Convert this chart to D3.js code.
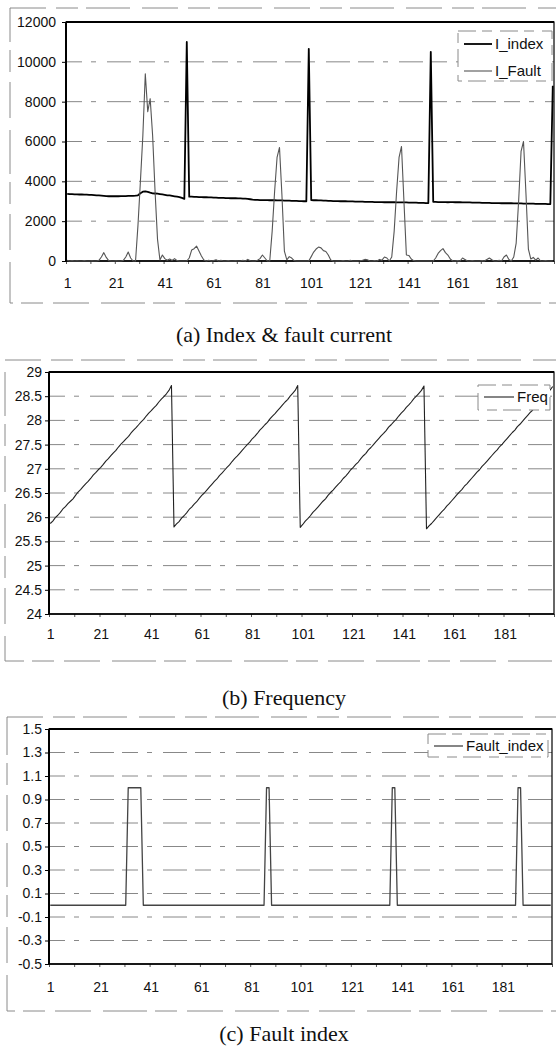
<!DOCTYPE html>
<html>
<head>
<meta charset="utf-8">
<script src="https://cdn.jsdelivr.net/npm/d3@7"></script>
<style>
  body { margin: 0; background: #fff; }
  .tick text { font-family: "Liberation Sans", Arial, sans-serif; font-size: 14px; fill: #111; }
  .caption { font-family: "Liberation Serif", "Times New Roman", serif; font-size: 22px; fill: #111; }
  .legtext { font-family: "Liberation Sans", Arial, sans-serif; font-size: 15px; fill: #111; }
</style>
</head>
<body>
<script>
// svg container
var svgWidth = 556;
var svgHeight = 1053;

// x categories and tick labels (shared by the 3 panels)
var categories = d3.range(1, 201);
var xTickLabels = [1, 21, 41, 61, 81, 101, 121, 141, 161, 181];

// (a) index & fault current
var yTicksA = [0, 2000, 4000, 6000, 8000, 10000, 12000];
var iIndex = [
  3370, 3360, 3360, 3350, 3350, 3340, 3340, 3330, 3330, 3320,
  3320, 3310, 3300, 3290, 3280, 3270, 3260, 3250, 3250, 3250,
  3250, 3250, 3260, 3260, 3260, 3270, 3270, 3270, 3280, 3300,
  3400, 3480, 3500, 3470, 3430, 3400, 3390, 3380, 3360, 3340,
  3320, 3300, 3290, 3270, 3250, 3230, 3210, 3170, 3120, 11000,
  3230, 3230, 3220, 3220, 3210, 3210, 3200, 3200, 3190, 3190,
  3180, 3180, 3170, 3170, 3170, 3160, 3160, 3150, 3150, 3150,
  3140, 3140, 3130, 3130, 3120, 3100, 3080, 3070, 3070, 3060,
  3060, 3060, 3060, 3050, 3050, 3050, 3040, 3040, 3040, 3030,
  3030, 3030, 3020, 3020, 3020, 3010, 3010, 3000, 3000, 10650,
  3060, 3050, 3050, 3040, 3040, 3030, 3030, 3020, 3020, 3010,
  3010, 3010, 3000, 3000, 3000, 2990, 2990, 2990, 2980, 2980,
  2980, 2980, 2970, 2970, 2970, 2970, 2960, 2960, 2960, 2960,
  2950, 2950, 2950, 2950, 2950, 2940, 2940, 2940, 2940, 2940,
  2930, 2930, 2930, 2930, 2920, 2920, 2920, 2910, 2910, 10500,
  2970, 2970, 2960, 2960, 2960, 2960, 2950, 2960, 2960, 2950,
  2950, 2950, 2940, 2940, 2940, 2940, 2930, 2930, 2930, 2930,
  2920, 2920, 2920, 2920, 2910, 2910, 2910, 2910, 2900, 2900,
  2900, 2900, 2900, 2890, 2890, 2890, 2890, 2880, 2880, 2880,
  2880, 2880, 2870, 2870, 2870, 2870, 2870, 2860, 2860, 8800
];
var iFault = [
  30, 0, 20, 0, 10, 0, 0, 20, 0, 0,
  10, 0, 0, 30, 200, 420, 180, 20, 0, 0,
  10, 0, 0, 30, 200, 450, 150, 0, 0, 1800,
  4000, 6300, 9400, 7500, 8150, 6300, 3500, 1100, 50, 300,
  120, 40, 100, 30, 120, 20, 0, 0, 0, 0,
  150, 550, 620, 750, 500, 250, 50, 0, 40, 0,
  20, 60, 0, 30, 0, 0, 20, 0, 0, 10,
  0, 0, 30, 0, 80, 10, 0, 0, 40, 120,
  300, 150, 0, 0, 1500, 3500, 5200, 5700, 3300, 500,
  60, 220, 150, 20, 0, 0, 0, 0, 0, 0,
  220, 450, 600, 700, 660, 520, 480, 300, 50, 0,
  0, 0, 0, 20, 0, 0, 30, 0, 0, 0,
  10, 40, 80, 60, 0, 0, 20, 0, 80, 40,
  200, 150, 0, 200, 1500, 3500, 5200, 5750, 3000, 300,
  280, 100, 20, 0, 0, 0, 0, 0, 0, 0,
  0, 150, 380, 520, 620, 420, 300, 100, 0, 0,
  20, 0, 150, 80, 0, 0, 20, 0, 0, 0,
  20, 0, 80, 150, 60, 0, 0, 30, 0, 200,
  300, 80, 0, 200, 900, 3000, 5500, 6000, 3400, 600,
  100, 180, 40, 150, 0, 0, 20, 0, 0, 0
];

// (b) frequency
var yTicksB = [24, 24.5, 25, 25.5, 26, 26.5, 27, 27.5, 28, 28.5, 29];
var freq = [
  25.87, 25.92, 25.99, 26.04, 26.10, 26.17, 26.22, 26.28, 26.33, 26.38,
  26.45, 26.52, 26.57, 26.63, 26.69, 26.74, 26.80, 26.87, 26.92, 26.98,
  27.03, 27.09, 27.16, 27.21, 27.27, 27.33, 27.38, 27.45, 27.51, 27.56,
  27.62, 27.67, 27.74, 27.80, 27.85, 27.91, 27.97, 28.02, 28.09, 28.15,
  28.20, 28.26, 28.31, 28.38, 28.44, 28.49, 28.55, 28.62, 28.72, 25.80,
  25.86, 25.91, 25.98, 26.03, 26.09, 26.16, 26.21, 26.27, 26.32, 26.39,
  26.45, 26.50, 26.56, 26.62, 26.68, 26.74, 26.79, 26.86, 26.91, 26.97,
  27.03, 27.08, 27.15, 27.21, 27.26, 27.32, 27.38, 27.44, 27.50, 27.55,
  27.62, 27.67, 27.73, 27.80, 27.85, 27.91, 27.96, 28.03, 28.09, 28.14,
  28.20, 28.26, 28.32, 28.38, 28.43, 28.50, 28.56, 28.62, 28.72, 25.79,
  25.85, 25.92, 25.97, 26.03, 26.10, 26.15, 26.21, 26.27, 26.33, 26.38,
  26.45, 26.51, 26.56, 26.62, 26.68, 26.73, 26.80, 26.85, 26.91, 26.98,
  27.03, 27.09, 27.14, 27.21, 27.27, 27.32, 27.39, 27.44, 27.50, 27.56,
  27.62, 27.68, 27.73, 27.79, 27.86, 27.91, 27.97, 28.02, 28.09, 28.15,
  28.20, 28.27, 28.32, 28.38, 28.45, 28.50, 28.56, 28.62, 28.71, 25.76,
  25.82, 25.87, 25.93, 25.99, 26.05, 26.11, 26.16, 26.23, 26.28, 26.34,
  26.40, 26.46, 26.52, 26.57, 26.64, 26.69, 26.75, 26.81, 26.87, 26.93,
  26.98, 27.05, 27.10, 27.16, 27.22, 27.28, 27.34, 27.39, 27.46, 27.51,
  27.57, 27.63, 27.69, 27.75, 27.80, 27.87, 27.92, 27.98, 28.04, 28.10,
  28.16, 28.21, 28.28, 28.33, 28.39, 28.45, 28.51, 28.57, 28.63, 28.70
];

// (c) fault index
var yTicksC = [-0.5, -0.3, -0.1, 0.1, 0.3, 0.5, 0.7, 0.9, 1.1, 1.3, 1.5];
var faultIndex = [
  0, 0, 0, 0, 0, 0, 0, 0, 0, 0,
  0, 0, 0, 0, 0, 0, 0, 0, 0, 0,
  0, 0, 0, 0, 0, 0, 0, 0, 0, 0,
  0, 1, 1, 1, 1, 1, 1, 0, 0, 0,
  0, 0, 0, 0, 0, 0, 0, 0, 0, 0,
  0, 0, 0, 0, 0, 0, 0, 0, 0, 0,
  0, 0, 0, 0, 0, 0, 0, 0, 0, 0,
  0, 0, 0, 0, 0, 0, 0, 0, 0, 0,
  0, 0, 0, 0, 0, 0, 1, 1, 0, 0,
  0, 0, 0, 0, 0, 0, 0, 0, 0, 0,
  0, 0, 0, 0, 0, 0, 0, 0, 0, 0,
  0, 0, 0, 0, 0, 0, 0, 0, 0, 0,
  0, 0, 0, 0, 0, 0, 0, 0, 0, 0,
  0, 0, 0, 0, 0, 0, 1, 1, 0, 0,
  0, 0, 0, 0, 0, 0, 0, 0, 0, 0,
  0, 0, 0, 0, 0, 0, 0, 0, 0, 0,
  0, 0, 0, 0, 0, 0, 0, 0, 0, 0,
  0, 0, 0, 0, 0, 0, 0, 0, 0, 0,
  0, 0, 0, 0, 0, 0, 1, 1, 0, 0,
  0, 0, 0, 0, 0, 0, 0, 0, 0, 0
];


var svg = d3.select("body")
  .append("svg")
  .attr("width", svgWidth)
  .attr("height", svgHeight);


/////////////// ONE PANEL (excel style line chart) /////////////////////////

function drawPanel(p) {
  var g = svg.append("g");

  var xScale = d3.scaleLinear()
    .domain([0.5, categories.length + 0.5])
    .range([p.left, p.right]);

  var yScale = d3.scaleLinear()
    .domain([p.yTicks[0], p.yTicks[p.yTicks.length - 1]])
    .range([p.bottom, p.top]);

  // dashed chart-area frame (scanned look)
  g.append("rect")
    .attr("x", p.frame[0]).attr("y", p.frame[1])
    .attr("width", p.frame[2] - p.frame[0])
    .attr("height", p.frame[3] - p.frame[1])
    .attr("fill", "none")
    .attr("stroke", "#8a8a8a")
    .attr("stroke-width", 1)
    .attr("stroke-dasharray", "36,10,22,8,44,12");

  // horizontal gridlines
  g.selectAll(".grid")
    .data(p.yTicks.slice(1, -1))
    .enter().append("line")
    .attr("x1", p.left).attr("x2", p.right)
    .attr("y1", d => yScale(d)).attr("y2", d => yScale(d))
    .attr("stroke", "#7a7a7a")
    .attr("stroke-width", 0.9)
    .attr("stroke-dasharray", "16,9,5,11,24,8");

  // y axis
  var yAxis = d3.axisLeft(yScale)
    .tickValues(p.yTicks)
    .tickSize(4)
    .tickSizeOuter(0)
    .tickPadding(p.yPad)
    .tickFormat(p.fmt);
  g.append("g")
    .attr("transform", `translate(${p.left}, 0)`)
    .call(yAxis)
    .call(a => a.select(".domain").remove());

  // x axis labels
  var xAxis = d3.axisBottom(xScale)
    .tickValues(xTickLabels)
    .tickSize(0)
    .tickPadding(p.xPad)
    .tickFormat(d3.format("d"));
  g.append("g")
    .attr("transform", `translate(0, ${p.bottom})`)
    .call(xAxis)
    .call(a => a.select(".domain").remove());

  // small category ticks every 10
  var xTickMarks = d3.axisBottom(xScale)
    .tickValues(d3.range(0.5, 201, 10))
    .tickSize(3)
    .tickSizeOuter(0)
    .tickFormat("");
  g.append("g")
    .attr("transform", `translate(0, ${p.bottom})`)
    .call(xTickMarks)
    .call(a => a.select(".domain").remove())
    .selectAll("line").attr("stroke", "#555");

  // plot area border
  g.append("rect")
    .attr("x", p.left).attr("y", p.top)
    .attr("width", p.right - p.left)
    .attr("height", p.bottom - p.top)
    .attr("fill", "none")
    .attr("stroke", "#000")
    .attr("stroke-width", 1.2);
  g.append("line")
    .attr("x1", p.left).attr("x2", p.left)
    .attr("y1", p.top).attr("y2", p.bottom)
    .attr("stroke", "#000").attr("stroke-width", 2);
  g.append("line")
    .attr("x1", p.left).attr("x2", p.right)
    .attr("y1", p.bottom).attr("y2", p.bottom)
    .attr("stroke", "#000").attr("stroke-width", 1.6);
  g.append("line")
    .attr("x1", p.left).attr("x2", p.right)
    .attr("y1", p.top).attr("y2", p.top)
    .attr("stroke", "#000").attr("stroke-width", 1.8);

  // series lines
  p.series.forEach(function(s) {
    var line = d3.line()
      .x((d, i) => xScale(categories[i]))
      .y(d => yScale(d));
    g.append("path")
      .datum(s.values)
      .attr("d", line)
      .attr("fill", "none")
      .attr("stroke", s.color)
      .attr("stroke-width", s.width)
      .attr("stroke-linejoin", "round");
  });

  // legend
  var L = p.legend;
  g.append("rect")
    .attr("x", L.x).attr("y", L.y)
    .attr("width", L.w).attr("height", L.h)
    .attr("fill", "#fff")
    .attr("stroke", "#8a8a8a")
    .attr("stroke-dasharray", "18,6,10,8");
  p.series.forEach(function(s, i) {
    var ly = L.y + L.first + i * L.step;
    g.append("line")
      .attr("x1", L.x + 6).attr("x2", L.x + 6 + L.len)
      .attr("y1", ly).attr("y2", ly)
      .attr("stroke", s.color)
      .attr("stroke-width", s.width);
    g.append("text")
      .attr("class", "legtext")
      .attr("x", L.x + 9 + L.len)
      .attr("y", ly)
      .attr("dy", "0.35em")
      .text(s.name);
  });

  // caption under the chart
  svg.append("text")
    .attr("class", "caption")
    .attr("x", 284)
    .attr("y", p.captionY)
    .attr("text-anchor", "middle")
    .attr("dy", "0.35em")
    .text(p.caption);
}


drawPanel({
  frame: [10, 8, 562, 303],
  left: 66, right: 554, top: 22, bottom: 261,
  yTicks: yTicksA, fmt: d3.format("d"), yPad: 6, xPad: 17,
  series: [
    { name: "I_index", values: iIndex, color: "#000", width: 1.8 },
    { name: "I_Fault", values: iFault, color: "#555", width: 1.1 }
  ],
  legend: { x: 458, y: 31, w: 94, h: 50, first: 13, step: 27, len: 28 },
  captionY: 334,
  caption: "(a) Index & fault current"
});

drawPanel({
  frame: [5, 360, 562, 661],
  left: 49, right: 554, top: 372, bottom: 614,
  yTicks: yTicksB, fmt: d => String(d), yPad: 3, xPad: 15,
  series: [
    { name: "Freq", values: freq, color: "#222", width: 1.1 }
  ],
  legend: { x: 478, y: 385, w: 72, h: 25, first: 12, step: 0, len: 30 },
  captionY: 697,
  caption: "(b) Frequency"
});

drawPanel({
  frame: [7, 717, 562, 1011],
  left: 49, right: 552, top: 729, bottom: 964,
  yTicks: yTicksC, fmt: d => d.toFixed(1), yPad: 3, xPad: 18,
  series: [
    { name: "Fault_index", values: faultIndex, color: "#444", width: 1.3 }
  ],
  legend: { x: 428, y: 734, w: 120, h: 23, first: 12, step: 0, len: 29 },
  captionY: 1033,
  caption: "(c) Fault index"
});
</script>
</body>
</html>
